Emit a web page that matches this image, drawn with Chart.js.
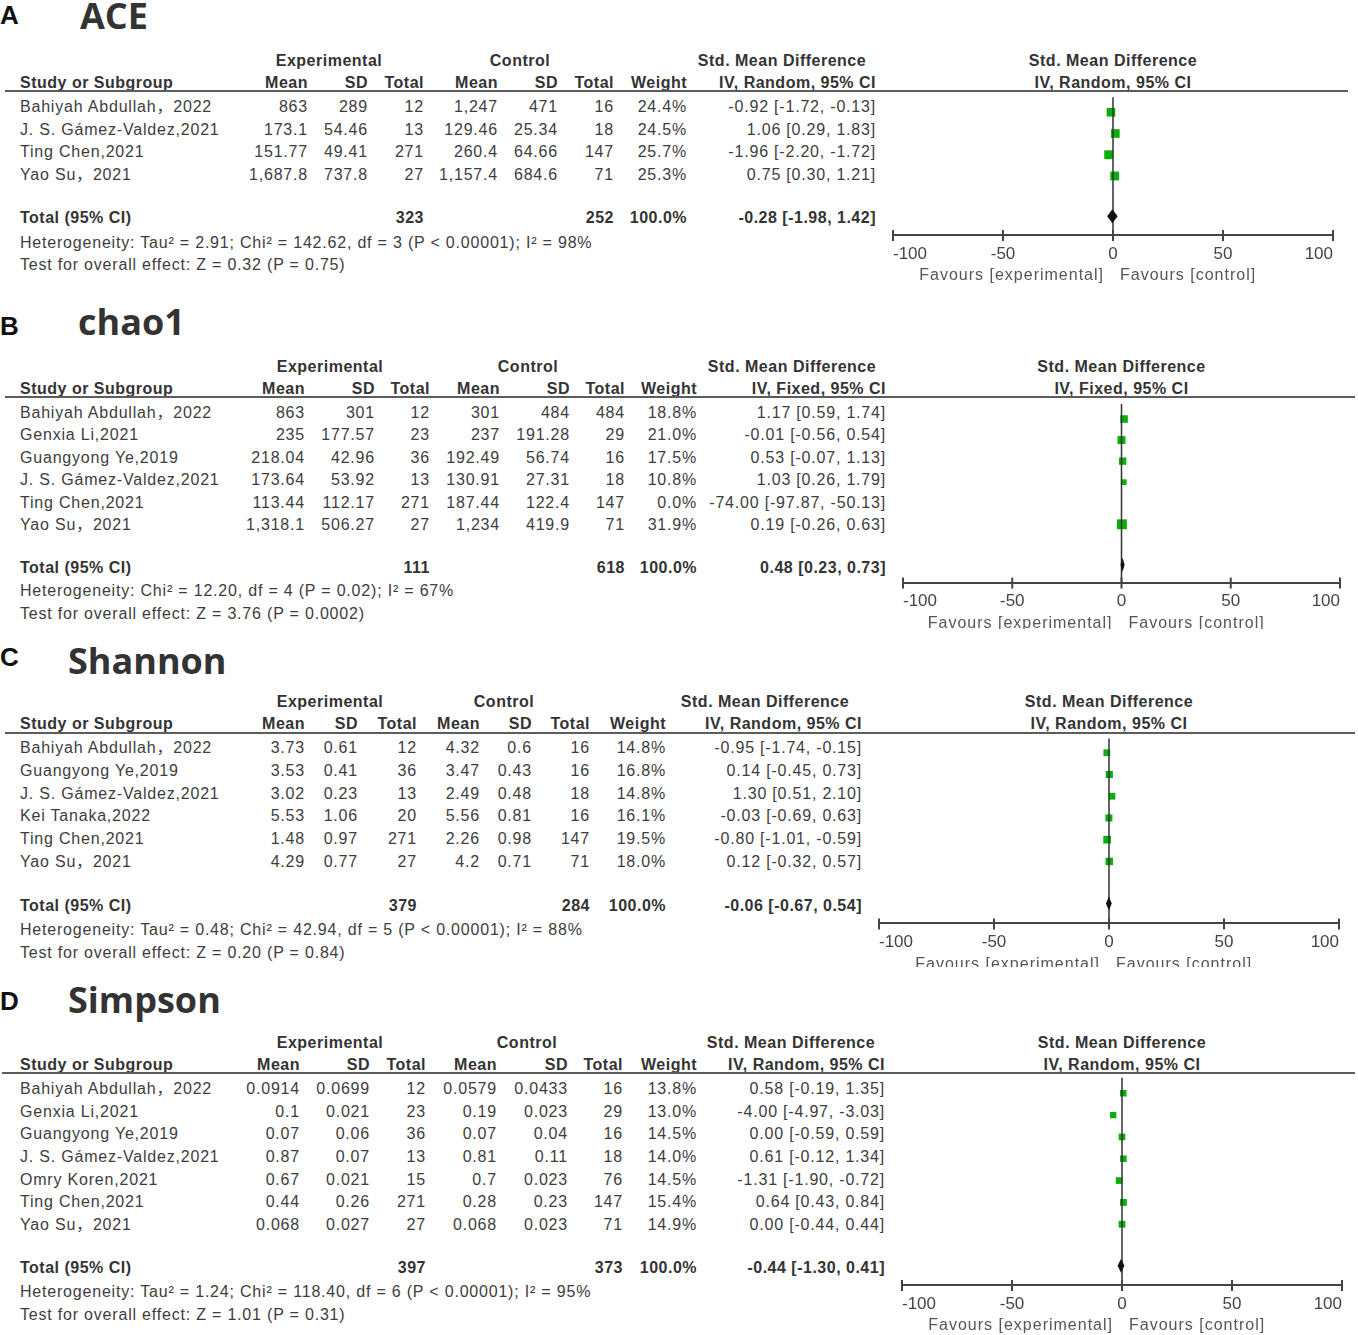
<!DOCTYPE html>
<html>
<head>
<meta charset="utf-8">
<script src="https://cdn.jsdelivr.net/npm/chart.js@4.4.1/dist/chart.umd.min.js"></script>
<style>
body{margin:0;background:#fff;width:1358px;height:1335px;position:relative;overflow:hidden;
     font-family:"Liberation Sans","Noto Sans CJK SC",Arial,sans-serif;color:#3d3d3d}
.t{position:absolute;white-space:nowrap;font-size:16px;letter-spacing:.8px;line-height:1}
.b{font-weight:bold;letter-spacing:.5px;color:#333}
.l{transform:translate(0,-50%)}
.r{transform:translate(-100%,-50%)}
.c{transform:translate(-50%,-50%)}
.letter{font-size:26px;font-weight:bold;color:#111;letter-spacing:0}
.title{font-family:"Open Sans","Noto Sans",sans-serif;font-size:36px;font-weight:bold;color:#333;letter-spacing:0}
.rule{position:absolute;height:2px;background:#5c5c5c}
canvas{position:absolute}
</style>
</head>
<body>
<script>
/* =========================
   DATA
========================= */

// A  ACE
const aceStudies = ["Bahiyah Abdullah，2022","J. S. Gámez-Valdez,2021","Ting Chen,2021","Yao Su，2021"];
const aceExpMean = ["863","173.1","151.77","1,687.8"];
const aceExpSD   = ["289","54.46","49.41","737.8"];
const aceExpN    = [12,13,271,27];
const aceCtlMean = ["1,247","129.46","260.4","1,157.4"];
const aceCtlSD   = ["471","25.34","64.66","684.6"];
const aceCtlN    = [16,18,147,71];
const aceWeight  = [24.4,24.5,25.7,25.3];
const aceSmd     = [-0.92,1.06,-1.96,0.75];
const aceLower   = [-1.72,0.29,-2.20,0.30];
const aceUpper   = [-0.13,1.83,-1.72,1.21];
const aceTotals  = [323,252];
const aceOverall = [-0.28,-1.98,1.42];
const aceNotes   = ["Heterogeneity: Tau² = 2.91; Chi² = 142.62, df = 3 (P < 0.00001); I² = 98%",
                    "Test for overall effect: Z = 0.32 (P = 0.75)"];

// B  chao1
const chaoStudies = ["Bahiyah Abdullah，2022","Genxia Li,2021","Guangyong Ye,2019","J. S. Gámez-Valdez,2021","Ting Chen,2021","Yao Su，2021"];
const chaoExpMean = ["863","235","218.04","173.64","113.44","1,318.1"];
const chaoExpSD   = ["301","177.57","42.96","53.92","112.17","506.27"];
const chaoExpN    = [12,23,36,13,271,27];
const chaoCtlMean = ["301","237","192.49","130.91","187.44","1,234"];
const chaoCtlSD   = ["484","191.28","56.74","27.31","122.4","419.9"];
const chaoCtlN    = [484,29,16,18,147,71];
const chaoWeight  = [18.8,21.0,17.5,10.8,0.0,31.9];
const chaoSmd     = [1.17,-0.01,0.53,1.03,-74.00,0.19];
const chaoLower   = [0.59,-0.56,-0.07,0.26,-97.87,-0.26];
const chaoUpper   = [1.74,0.54,1.13,1.79,-50.13,0.63];
const chaoTotals  = [111,618];
const chaoOverall = [0.48,0.23,0.73];
const chaoNotes   = ["Heterogeneity: Chi² = 12.20, df = 4 (P = 0.02); I² = 67%",
                     "Test for overall effect: Z = 3.76 (P = 0.0002)"];

// C  Shannon
const shanStudies = ["Bahiyah Abdullah，2022","Guangyong Ye,2019","J. S. Gámez-Valdez,2021","Kei Tanaka,2022","Ting Chen,2021","Yao Su，2021"];
const shanExpMean = ["3.73","3.53","3.02","5.53","1.48","4.29"];
const shanExpSD   = ["0.61","0.41","0.23","1.06","0.97","0.77"];
const shanExpN    = [12,36,13,20,271,27];
const shanCtlMean = ["4.32","3.47","2.49","5.56","2.26","4.2"];
const shanCtlSD   = ["0.6","0.43","0.48","0.81","0.98","0.71"];
const shanCtlN    = [16,16,18,16,147,71];
const shanWeight  = [14.8,16.8,14.8,16.1,19.5,18.0];
const shanSmd     = [-0.95,0.14,1.30,-0.03,-0.80,0.12];
const shanLower   = [-1.74,-0.45,0.51,-0.69,-1.01,-0.32];
const shanUpper   = [-0.15,0.73,2.10,0.63,-0.59,0.57];
const shanTotals  = [379,284];
const shanOverall = [-0.06,-0.67,0.54];
const shanNotes   = ["Heterogeneity: Tau² = 0.48; Chi² = 42.94, df = 5 (P < 0.00001); I² = 88%",
                     "Test for overall effect: Z = 0.20 (P = 0.84)"];

// D  Simpson
const simpStudies = ["Bahiyah Abdullah，2022","Genxia Li,2021","Guangyong Ye,2019","J. S. Gámez-Valdez,2021","Omry Koren,2021","Ting Chen,2021","Yao Su，2021"];
const simpExpMean = ["0.0914","0.1","0.07","0.87","0.67","0.44","0.068"];
const simpExpSD   = ["0.0699","0.021","0.06","0.07","0.021","0.26","0.027"];
const simpExpN    = [12,23,36,13,15,271,27];
const simpCtlMean = ["0.0579","0.19","0.07","0.81","0.7","0.28","0.068"];
const simpCtlSD   = ["0.0433","0.023","0.04","0.11","0.023","0.23","0.023"];
const simpCtlN    = [16,29,16,18,76,147,71];
const simpWeight  = [13.8,13.0,14.5,14.0,14.5,15.4,14.9];
const simpSmd     = [0.58,-4.00,0.00,0.61,-1.31,0.64,0.00];
const simpLower   = [-0.19,-4.97,-0.59,-0.12,-1.90,0.43,-0.44];
const simpUpper   = [1.35,-3.03,0.59,1.34,-0.72,0.84,0.44];
const simpTotals  = [397,373];
const simpOverall = [-0.44,-1.30,0.41];
const simpNotes   = ["Heterogeneity: Tau² = 1.24; Chi² = 118.40, df = 6 (P < 0.00001); I² = 95%",
                     "Test for overall effect: Z = 1.01 (P = 0.31)"];

const axisTicks = [-100,-50,0,50,100];
const favours = ["Favours [experimental]","Favours [control]"];

/* =========================
   LAYOUT (pixels)
========================= */

const panels = [
  {letter:"A", title:"ACE", titleX:80, titleY:16, letterY:15,
   h1:61, h2:83, rule:91, ruleX0:5, ruleX1:1348, row0:107, step:22.67, totalY:218,
   hetY:243, testY:265, axisY:238, bottom:290, x0:893, x1:1333,
   cols:[308,368,424,498,558,614,687,876], expC:329, ctlC:520, smdC:782, method:"IV, Random, 95% CI",
   studies:aceStudies, em:aceExpMean, es:aceExpSD, en:aceExpN, cm:aceCtlMean, cs:aceCtlSD, cn:aceCtlN,
   w:aceWeight, smd:aceSmd, lo:aceLower, hi:aceUpper, totals:aceTotals, overall:aceOverall, notes:aceNotes},
  {letter:"B", title:"chao1", titleX:78, titleY:322, letterY:326,
   h1:367, h2:389, rule:397, ruleX0:5, ruleX1:1355, row0:413, step:22.4, totalY:568,
   hetY:591, testY:614, axisY:587, bottom:629, x0:903, x1:1340,
   cols:[305,375,430,500,570,625,697,886], expC:330, ctlC:528, smdC:792, method:"IV, Fixed, 95% CI",
   studies:chaoStudies, em:chaoExpMean, es:chaoExpSD, en:chaoExpN, cm:chaoCtlMean, cs:chaoCtlSD, cn:chaoCtlN,
   w:chaoWeight, smd:chaoSmd, lo:chaoLower, hi:chaoUpper, totals:chaoTotals, overall:chaoOverall, notes:chaoNotes},
  {letter:"C", title:"Shannon", titleX:68, titleY:661, letterY:657,
   h1:702, h2:724, rule:733, ruleX0:5, ruleX1:1355, row0:748, step:22.8, totalY:906,
   hetY:930, testY:953, axisY:927, bottom:967, x0:879, x1:1339,
   cols:[305,358,417,480,532,590,666,862], expC:330, ctlC:504, smdC:765, method:"IV, Random, 95% CI",
   studies:shanStudies, em:shanExpMean, es:shanExpSD, en:shanExpN, cm:shanCtlMean, cs:shanCtlSD, cn:shanCtlN,
   w:shanWeight, smd:shanSmd, lo:shanLower, hi:shanUpper, totals:shanTotals, overall:shanOverall, notes:shanNotes},
  {letter:"D", title:"Simpson", titleX:68, titleY:1000, letterY:1001,
   h1:1043, h2:1065, rule:1073, ruleX0:2, ruleX1:1355, row0:1089, step:22.67, totalY:1268,
   hetY:1292, testY:1315, axisY:1288, bottom:1335, x0:902, x1:1342,
   cols:[300,370,426,497,568,623,697,885], expC:330, ctlC:527, smdC:791, method:"IV, Random, 95% CI",
   studies:simpStudies, em:simpExpMean, es:simpExpSD, en:simpExpN, cm:simpCtlMean, cs:simpCtlSD, cn:simpCtlN,
   w:simpWeight, smd:simpSmd, lo:simpLower, hi:simpUpper, totals:simpTotals, overall:simpOverall, notes:simpNotes}
];

const GREEN = "#0cae0c";
const PAD = 14;

/* =========================
   TEXT HELPERS
========================= */

function txt(s, x, y, cls){
    const d = document.createElement("div");
    d.className = "t " + cls;
    d.textContent = s;
    d.style.left = x + "px";
    d.style.top = y + "px";
    document.body.appendChild(d);
    return d;
}

function ci(e, l, h){
    return e.toFixed(2) + " [" + l.toFixed(2) + ", " + h.toFixed(2) + "]";
}

/* =========================
   FOREST PLUGIN
   (CI lines, diamond, ticks, favours labels)
========================= */

const forestPlugin = {
    id:"forest",
    beforeDatasetsDraw(chart){
        const p = chart.config.options.plugins.forest;
        const {ctx, scales:{x, y}} = chart;
        ctx.save();
        ctx.strokeStyle = "#222";
        ctx.lineWidth = 1;
        p.lo.forEach((l, i)=>{
            if(!p.w[i]) return;
            const py = y.getPixelForValue(i);
            ctx.beginPath();
            ctx.moveTo(x.getPixelForValue(l), py);
            ctx.lineTo(x.getPixelForValue(p.hi[i]), py);
            ctx.stroke();
        });
        ctx.restore();
    },
    afterDatasetsDraw(chart){
        const p = chart.config.options.plugins.forest;
        const {ctx, scales:{x, y}} = chart;
        ctx.save();

        // overall diamond
        const ty = y.getPixelForValue(p.totalRow);
        ctx.fillStyle = "#111";
        ctx.beginPath();
        ctx.moveTo(x.getPixelForValue(p.overall[1]) - 1.5, ty);
        ctx.lineTo(x.getPixelForValue(p.overall[0]), ty - 7);
        ctx.lineTo(x.getPixelForValue(p.overall[2]) + 1.5, ty);
        ctx.lineTo(x.getPixelForValue(p.overall[0]), ty + 7);
        ctx.closePath();
        ctx.fill();

        // tick marks crossing the axis
        const ay = y.getPixelForValue(p.axisRow);
        ctx.strokeStyle = "#444";
        ctx.lineWidth = 2;
        axisTicks.forEach(v=>{
            const px = x.getPixelForValue(v);
            ctx.beginPath();
            ctx.moveTo(px, ay - 5);
            ctx.lineTo(px, ay + 6);
            ctx.stroke();
        });

        // favours labels
        const zx = x.getPixelForValue(0);
        ctx.font = "16px 'Liberation Sans', Arial, sans-serif";
        if("letterSpacing" in ctx) ctx.letterSpacing = "1px";
        ctx.fillStyle = "#555";
        ctx.textBaseline = "middle";
        ctx.textAlign = "right";
        ctx.fillText(favours[0], zx - 9, ay + 41);
        ctx.textAlign = "left";
        ctx.fillText(favours[1], zx + 7, ay + 41);
        ctx.restore();
    }
};

/* =========================
   BUILD PANELS
========================= */

panels.forEach(p=>{

    // titles
    txt(p.letter, 0, p.letterY, "l letter");
    txt(p.title, p.titleX, p.titleY, "l title");

    // headers
    txt("Experimental", p.expC, p.h1, "c b");
    txt("Control", p.ctlC, p.h1, "c b");
    txt("Std. Mean Difference", p.smdC, p.h1, "c b");
    txt("Std. Mean Difference", (p.x0 + p.x1) / 2, p.h1, "c b");
    txt("Study or Subgroup", 20, p.h2, "l b");
    ["Mean","SD","Total","Mean","SD","Total","Weight",p.method].forEach((h, k)=>{
        txt(h, p.cols[k], p.h2, "r b");
    });
    txt(p.method, (p.x0 + p.x1) / 2, p.h2, "c b");

    const rule = document.createElement("div");
    rule.className = "rule";
    rule.style.left = p.ruleX0 + "px";
    rule.style.width = (p.ruleX1 - p.ruleX0) + "px";
    rule.style.top = (p.rule - 1) + "px";
    document.body.appendChild(rule);

    // study rows
    p.studies.forEach((s, i)=>{
        const y = p.row0 + i * p.step;
        txt(s, 20, y, "l");
        const cells = [p.em[i], p.es[i], p.en[i], p.cm[i], p.cs[i], p.cn[i],
                       p.w[i].toFixed(1) + "%", ci(p.smd[i], p.lo[i], p.hi[i])];
        cells.forEach((c, k)=> txt(String(c), p.cols[k], y, "r"));
    });

    // total rows
    txt("Total (95% CI)", 20, p.totalY, "l b");
    txt(String(p.totals[0]), p.cols[2], p.totalY, "r b");
    txt(String(p.totals[1]), p.cols[5], p.totalY, "r b");
    txt("100.0%", p.cols[6], p.totalY, "r b");
    txt(ci(p.overall[0], p.overall[1], p.overall[2]), p.cols[7], p.totalY, "r b");
    txt(p.notes[0], 20, p.hetY, "l");
    txt(p.notes[1], 20, p.testY, "l");

    // chart canvas
    const cv = document.createElement("canvas");
    const W = (p.x1 - p.x0) + PAD * 2;
    const H = p.bottom - p.rule;
    cv.width = W; cv.height = H;
    cv.style.width = W + "px"; cv.style.height = H + "px";
    cv.style.left = (p.x0 - PAD) + "px";
    cv.style.top = p.rule + "px";
    document.body.appendChild(cv);

    const yMin = -(p.row0 - p.rule) / p.step;
    const yMax = (p.bottom - p.row0) / p.step;
    const totalRow = (p.totalY - p.row0) / p.step;
    const axisRow = (p.axisY - p.row0) / p.step;

    new Chart(cv, {
        type:"scatter",
        data:{
            datasets:[
                {
                    type:"line",
                    data:[{x:0, y:yMin}, {x:0, y:axisRow}],
                    borderColor:"#333",
                    borderWidth:1.5,
                    pointRadius:0,
                    clip:false
                },
                {
                    data:p.smd.map((v, i)=>({x:v, y:i})),
                    pointStyle:"rect",
                    backgroundColor:GREEN,
                    borderWidth:0,
                    pointRadius:ctx=> 1.75 * Math.sqrt(p.w[ctx.dataIndex] || 0) / Math.SQRT2,
                    clip:false
                }
            ]
        },
        options:{
            responsive:false,
            animation:false,
            events:[],
            layout:{padding:{left:PAD, right:PAD, top:0, bottom:0}},
            plugins:{
                legend:{display:false},
                tooltip:{enabled:false},
                forest:{lo:p.lo, hi:p.hi, w:p.w, overall:p.overall, totalRow:totalRow, axisRow:axisRow}
            },
            scales:{
                x:{
                    type:"linear", min:-100, max:100,
                    position:{y:axisRow},
                    afterBuildTicks:axis=>{ axis.ticks = axisTicks.map(v=>({value:v})); },
                    ticks:{align:"inner", padding:9, color:"#444",
                           font:{size:17, family:"'Liberation Sans', Arial, sans-serif"}},
                    grid:{display:true, drawOnChartArea:false, drawTicks:false},
                    border:{display:true, color:"#444", width:2}
                },
                y:{type:"linear", reverse:true, min:yMin, max:yMax, display:false}
            }
        },
        plugins:[forestPlugin]
    });
});
</script>
</body>
</html>
